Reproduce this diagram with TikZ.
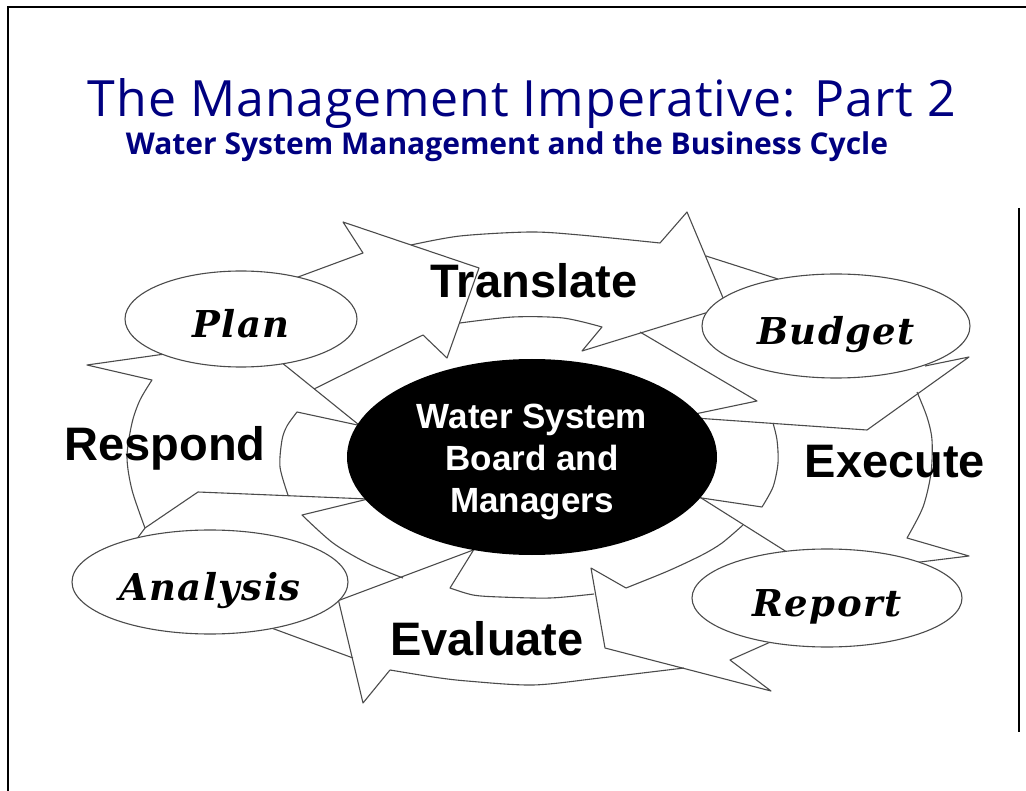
\documentclass[tikz,border=0pt]{standalone}
\usepackage{fontspec}
\setmainfont{Liberation Sans}
\newfontfamily\slidefont{Open Sans}
\newfontfamily\stagefont[LetterSpace=4]{DejaVu Serif}
\usetikzlibrary{shapes.geometric}
\definecolor{slidenavy}{RGB}{0,0,128}
\definecolor{ringgray}{RGB}{75,75,75}

\begin{document}
\begin{tikzpicture}[x=1pt, y=-1pt,
  ring/.style={draw=ringgray, line width=1.1pt, line join=round},
  stage/.style={ellipse, draw=ringgray, line width=1.1pt, fill=white, inner sep=0pt,
    text height=37pt, text depth=0pt, font=\stagefont\bfseries\itshape\fontsize{37}{40}\selectfont},
  word/.style={font=\bfseries\fontsize{47}{50}\selectfont, anchor=base}]

\useasboundingbox (0,0) rectangle (1026,791);
\draw[line width=2pt] (8,791) -- (8,7) -- (1026,7);
\draw[line width=2.5pt] (1019,208) -- (1019,732);

\node[font=\slidefont\addfontfeature{LetterSpace=2}\fontsize{50}{54}\selectfont, text=slidenavy, anchor=base] (title) at (522,117)
  {The Management Imperative: Part 2};
\node[font=\slidefont\bfseries\fontsize{30}{34}\selectfont, text=slidenavy, anchor=base] (subtitle) at (507,155)
  {Water System Management and the Business Cycle};

\draw[ring] (290,280) -- (363,253) -- (343,222) -- (479,268) -- (447,358) -- (423,335) -- (314,389);
\draw[ring] plot[smooth] coordinates {(411,245) (460,236) (530,232) (580,235) (660,243)}
  -- (687,212) -- (726,305);
\draw[ring] plot[smooth] coordinates {(460,323) (513,317) (563,318) (602,327)}
  -- (582,351) -- (712,311);
\draw[ring] (706,256) -- (778,279);
\draw[ring] (640,332) -- (757,401) -- (695,414);
\draw[ring] (925,366) -- (969,357) -- (867,430) -- (695,418);

\draw[ring] plot[smooth] coordinates {(917,392) (927,417) (932,440) (931,473) (923,507) (907,538)}
  -- (969,556) -- (912,563);
\draw[ring] plot[smooth] coordinates {(773,423) (777,440) (778,463) (773,487) (762,507)}
  -- (695,497);
\draw[ring] (698,496) -- (790,554);

\draw[ring] plot[smooth] coordinates {(743,525) (722,543) (702,555) (668,571) (626,588)}
  -- (591,568) -- (605,648) -- (771,691) -- (730,660) -- (775,640);
\draw[ring] (476,546) -- plot[smooth] coordinates {(450,588) (473,595) (500,597) (550,598) (594,594)};
\draw[ring] plot[smooth] coordinates {(390,670) (433,677) (467,681) (533,685) (600,678) (684,668)};
\draw[ring] (336,590) -- (363,703) -- (390,670);
\draw[ring] (266,626) -- (353,658);
\draw[ring] (340,600) -- (476,549);
\draw[ring] plot[smooth] coordinates {(403,578) (367,563) (333,543) (302,515)} -- (368,499);

\draw[ring] (130,548) -- plot[smooth] coordinates {(145,528) (132,490) (127,457) (132,423) (140,400) (152,380)}
  -- (87,365) -- (172,353);
\draw[ring] (145,528) -- (198,492) -- (368,499);
\draw[ring] (362,426) -- plot[smooth] coordinates {(297,412) (287,426) (282,440) (280,467) (288,495)};
\draw[ring] (276,358) -- (364,429);

\node[ellipse, fill=black, minimum width=370pt, minimum height=196pt, inner sep=0pt,
  text=white, align=center, font=\bfseries\fontsize{35}{42}\selectfont] (hub) at (532,457)
  {\rule{0pt}{34pt}Water System\\Board and\\Managers};
\node[stage, minimum width=232pt, minimum height=96pt] (plan) at (241,319) {Plan};
\node[stage, minimum width=268pt, minimum height=104pt] (budget) at (836,326) {Budget};
\node[stage, minimum width=270pt, minimum height=98pt] (report) at (827,598) {Report};
\node[stage, minimum width=276pt, minimum height=104pt] (analysis) at (210,582) {Analysis};

\node[word] (translate) at (534,298) {Translate};
\node[word] (respond) at (165,461) {Respond};
\node[word] (execute) at (895,478) {Execute};
\node[word] (evaluate) at (487,655) {Evaluate};

\end{tikzpicture}
\end{document}
